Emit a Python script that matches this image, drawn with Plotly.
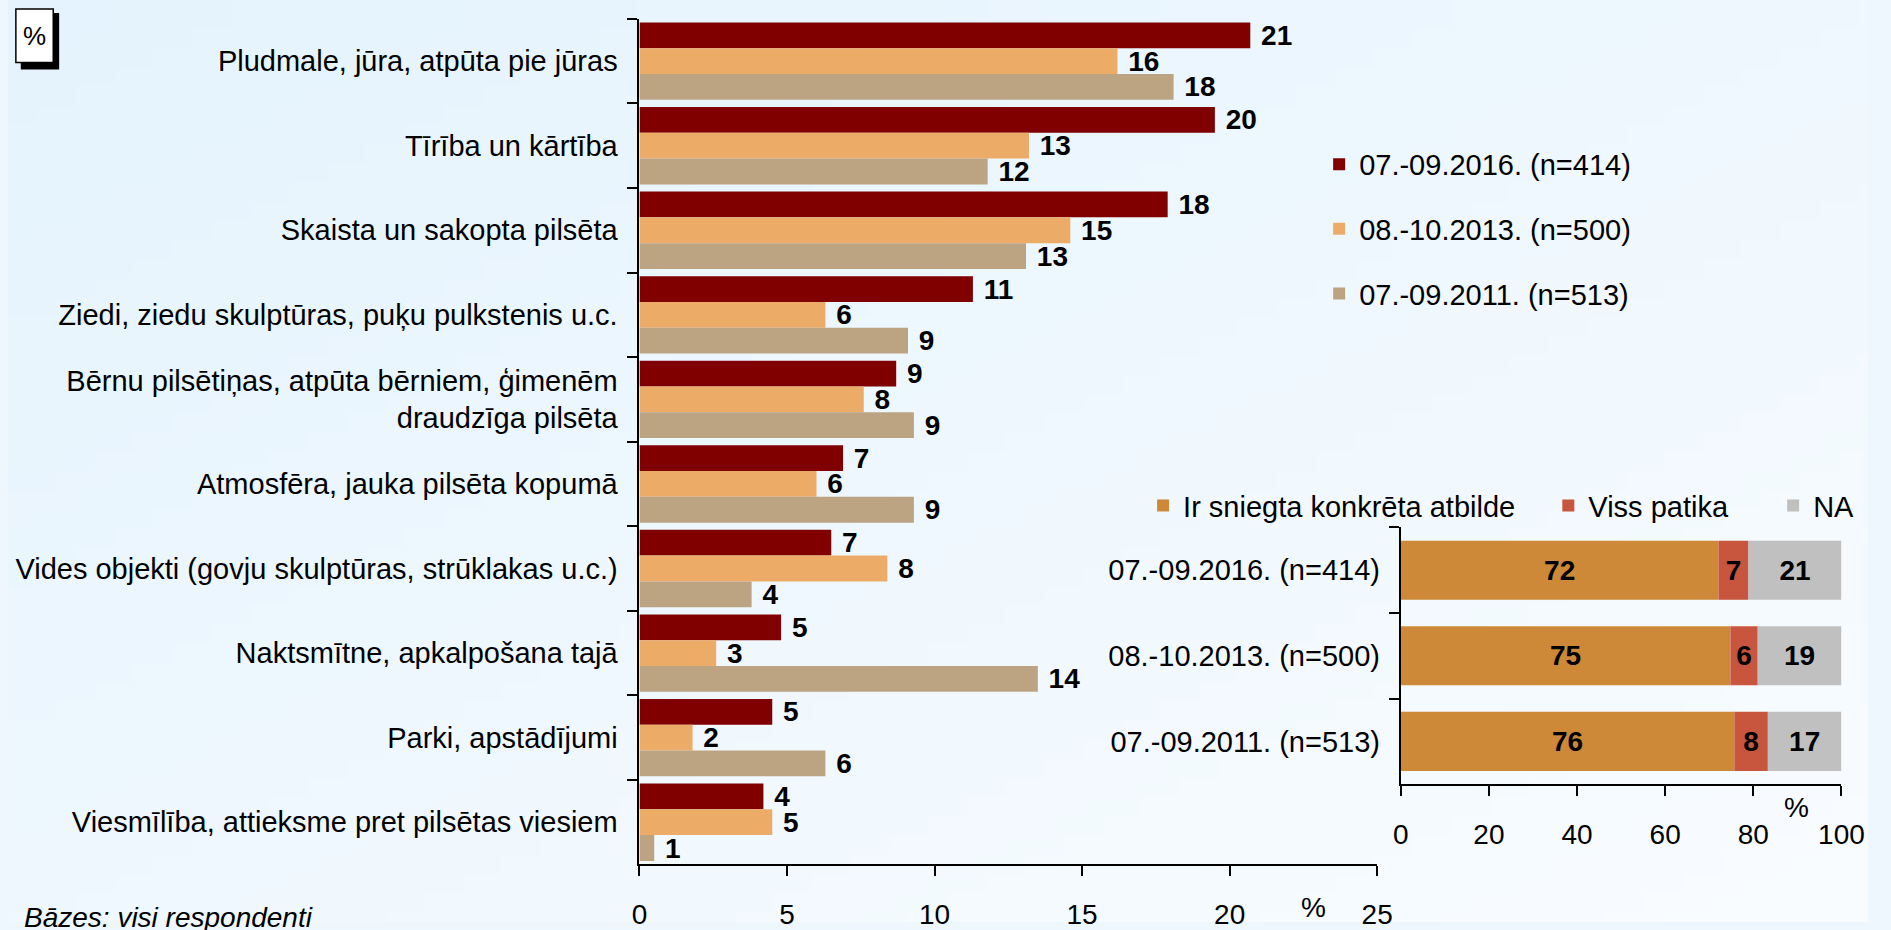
import base64
import struct
import zlib

import plotly.graph_objects as go

# ---------------- data ----------------
categories = [
    "Pludmale, jūra, atpūta pie jūras",
    "Tīrība un kārtība",
    "Skaista un sakopta pilsēta",
    "Ziedi, ziedu skulptūras, puķu pulkstenis u.c.",
    "Bērnu pilsētiņas, atpūta bērniem, ģimenēm<br>draudzīga pilsēta",
    "Atmosfēra, jauka pilsēta kopumā",
    "Vides objekti (govju skulptūras, strūklakas u.c.)",
    "Naktsmītne, apkalpošana tajā",
    "Parki, apstādījumi",
    "Viesmīlība, attieksme pret pilsētas viesiem",
]
series_names = ["07.-09.2016. (n=414)", "08.-10.2013. (n=500)", "07.-09.2011. (n=513)"]
values_2016 = [20.7, 19.5, 17.9, 11.3, 8.7, 6.9, 6.5, 4.8, 4.5, 4.2]
values_2013 = [16.2, 13.2, 14.6, 6.3, 7.6, 6.0, 8.4, 2.6, 1.8, 4.5]
values_2011 = [18.1, 11.8, 13.1, 9.1, 9.3, 9.3, 3.8, 13.5, 6.3, 0.5]
labels_2016 = ["21", "20", "18", "11", "9", "7", "7", "5", "5", "4"]
labels_2013 = ["16", "13", "15", "6", "8", "6", "8", "3", "2", "5"]
labels_2011 = ["18", "12", "13", "9", "9", "9", "4", "14", "6", "1"]
main_ticks = [0, 5, 10, 15, 20, 25]

periods = ["07.-09.2016. (n=414)", "08.-10.2013. (n=500)", "07.-09.2011. (n=513)"]
answer_names = ["Ir sniegta konkrēta atbilde", "Viss patika", "NA"]
answer_given = [72.1, 74.8, 75.7]
liked_all = [6.8, 6.2, 7.6]
no_answer = [21.1, 19.0, 16.7]
answer_given_labels = ["72", "75", "76"]
liked_all_labels = ["7", "6", "8"]
no_answer_labels = ["21", "19", "17"]
side_ticks = [0, 20, 40, 60, 80, 100]

# ---------------- styling ----------------
W, H = 1891, 930
FONT = "Liberation Sans, Arial, sans-serif"
NBSP = "\u00a0"
series_colors = ["#800000", "#EDAB68", "#BCA382"]
answer_colors = ["#CD8838", "#C8553D", "#C0C0C0"]
BG_TOP_LEFT = (228, 243, 253)
BG_BOTTOM_RIGHT = (249, 252, 255)


def px(x):
    return x / W


def py(y):
    return 1 - y / H


def gradient_png(w, h, c0, c1):
    """Small diagonal gradient PNG used as a stretched page background."""
    rows = []
    for j in range(h):
        row = bytearray([0])
        for i in range(w):
            t = (i / (w - 1) + j / (h - 1)) / 2
            row.extend(int(round(a + (b - a) * t)) for a, b in zip(c0, c1))
        rows.append(bytes(row))
    raw = b"".join(rows)

    def chunk(tag, data):
        return (struct.pack(">I", len(data)) + tag + data
                + struct.pack(">I", zlib.crc32(tag + data) & 0xFFFFFFFF))

    png = (b"\x89PNG\r\n\x1a\n"
           + chunk(b"IHDR", struct.pack(">IIBBBBB", w, h, 8, 2, 0, 0, 0))
           + chunk(b"IDAT", zlib.compress(raw, 9))
           + chunk(b"IEND", b""))
    return "data:image/png;base64," + base64.b64encode(png).decode()


fig = go.Figure()

main_vals = [values_2016, values_2013, values_2011]
main_labels = [labels_2016, labels_2013, labels_2011]
offsets = [-0.4575, -0.1525, 0.1525]
for name, vals, labs, col, off in zip(series_names, main_vals, main_labels, series_colors, offsets):
    fig.add_trace(go.Bar(
        y=categories, x=vals, orientation="h", name=name,
        marker=dict(color=col, line=dict(width=0)),
        width=0.305, offset=off,
        text=[NBSP + t for t in labs], textposition="outside",
        textfont=dict(family=FONT, size=28, color="black", weight="bold"),
        constraintext="none", cliponaxis=False,
        xaxis="x", yaxis="y", legend="legend", legendgroup=name,
        hoverinfo="skip",
    ))

bases = [
    [0, 0, 0],
    answer_given,
    [a + b for a, b in zip(answer_given, liked_all)],
]
side_vals = [answer_given, liked_all, no_answer]
side_labels = [answer_given_labels, liked_all_labels, no_answer_labels]
side_legends = ["legend2", "legend3", "legend4"]
for name, vals, labs, base, col, lg in zip(answer_names, side_vals, side_labels, bases,
                                          answer_colors, side_legends):
    fig.add_trace(go.Bar(
        y=periods, x=vals, base=base, orientation="h", name=name,
        marker=dict(color=col, line=dict(width=0)),
        width=0.69, offset=-0.345,
        text=labs, textposition="inside", insidetextanchor="middle",
        insidetextfont=dict(family=FONT, size=28, color="black", weight="bold"),
        constraintext="none",
        xaxis="x2", yaxis="y2", legend=lg,
        hoverinfo="skip",
    ))

axis_common = dict(
    showline=True, linecolor="black", linewidth=2,
    ticks="outside", ticklen=10, tickwidth=2, tickcolor="black",
    showgrid=False, zeroline=False,
)
legend_common = dict(font=dict(size=29), bgcolor="rgba(0,0,0,0)", borderwidth=0)

fig.update_layout(
    width=W, height=H, autosize=False,
    margin=dict(l=0, r=0, t=0, b=0),
    paper_bgcolor="#EEF7FE", plot_bgcolor="rgba(0,0,0,0)",
    font=dict(family=FONT, size=28, color="black"),
    barmode="overlay",
    showlegend=True,
    images=[dict(source=gradient_png(96, 48, BG_TOP_LEFT, BG_BOTTOM_RIGHT),
                 xref="paper", yref="paper", x=0, y=1, sizex=1, sizey=1,
                 xanchor="left", yanchor="top", sizing="stretch", layer="below")],
    xaxis=dict(domain=[px(642), px(1392)], range=[0, 25], tickvals=main_ticks,
               tickfont=dict(size=28), ticklabelstandoff=14, anchor="y", **axis_common),
    yaxis=dict(domain=[py(872), py(19)], autorange="reversed", type="category",
               tickson="boundaries", tickfont=dict(size=29), ticklabelstandoff=14,
               anchor="x", **axis_common),
    xaxis2=dict(domain=[px(1416), px(1864)], range=[0, 100], tickvals=side_ticks,
                tickfont=dict(size=28), ticklabelstandoff=14, anchor="y2", **axis_common),
    yaxis2=dict(domain=[py(791), py(532)], autorange="reversed", type="category",
                tickson="boundaries", tickfont=dict(size=29), ticklabelstandoff=13,
                anchor="x2", **axis_common),
    legend=dict(x=px(1333), y=py(140), xanchor="left", yanchor="top",
                orientation="v", tracegroupgap=24, traceorder="grouped", **legend_common),
    legend2=dict(x=px(1154), y=py(510), xanchor="left", yanchor="middle",
                 orientation="h", **legend_common),
    legend3=dict(x=px(1566), y=py(510), xanchor="left", yanchor="middle",
                 orientation="h", **legend_common),
    legend4=dict(x=px(1882), y=py(510), xanchor="right", yanchor="middle",
                 orientation="h", **legend_common),
    shapes=[
        dict(type="rect", xref="paper", yref="paper",
             x0=px(13), x1=px(52), y0=py(70), y1=py(13),
             fillcolor="black", line=dict(width=0)),
        dict(type="rect", xref="paper", yref="paper",
             x0=px(8), x1=px(46), y0=py(63), y1=py(9),
             fillcolor="white", line=dict(color="black", width=1.5)),
    ],
    annotations=[
        dict(text="%", xref="paper", yref="paper", x=px(27), y=py(36),
             showarrow=False, font=dict(size=26), xanchor="center", yanchor="middle"),
        dict(text="%", xref="paper", yref="paper", x=px(1327), y=py(915),
             showarrow=False, font=dict(size=28), xanchor="center", yanchor="middle"),
        dict(text="%", xref="paper", yref="paper", x=px(1818), y=py(815),
             showarrow=False, font=dict(size=28), xanchor="center", yanchor="middle"),
        dict(text="<i>Bāzes: visi respondenti</i>", xref="paper", yref="paper",
             x=px(14), y=py(925), showarrow=False, font=dict(size=28),
             xanchor="left", yanchor="middle"),
    ],
)

fig.write_html(
    "out.html",
    config={"displayModeBar": False},
    post_script="document.body.style.margin='0';document.body.style.overflow='hidden';",
)
